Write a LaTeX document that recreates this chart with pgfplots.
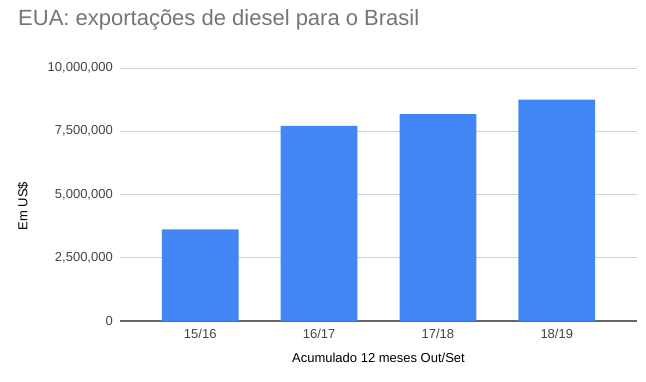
\documentclass[border=0pt]{standalone}
\usepackage{fontspec}
\setmainfont{Liberation Sans}
\usepackage{pgfplots}
\pgfplotsset{compat=1.18}
\definecolor{barblue}{HTML}{4285F4}
\definecolor{titlegray}{HTML}{757575}
\definecolor{ticktext}{HTML}{444444}
\definecolor{gridgray}{HTML}{D0D0D0}
\definecolor{basegray}{HTML}{666666}
\begin{document}
\begin{tikzpicture}[x=1pt,y=1pt]
\path[use as bounding box] (0,0) rectangle (646,382);
\node[anchor=base west, inner sep=0pt, text=titlegray, font=\fontsize{22}{26}\selectfont] at (18,356) {EUA: exportações de diesel para o Brasil};
\begin{axis}[
  at={(120pt,61pt)}, anchor=south west,
  scale only axis, width=517pt, height=253pt,
  xmin=-0.675, xmax=3.675, ymin=0, ymax=10000000,
  ybar, bar width=76.7pt,
  axis x line*=bottom, axis y line*=left,
  x axis line style={-, draw=basegray, line width=1.3pt},
  y axis line style={draw=none},
  xtick=data, xticklabels={15/16,16/17,17/18,18/19},
  ytick={0,2500000,5000000,7500000,10000000},
  yticklabels={0,{2,500,000},{5,000,000},{7,500,000},{10,000,000}},
  major tick length=0pt,
  ymajorgrids, grid style={draw=gridgray, line width=0.9pt},
  ticklabel style={font=\fontsize{13}{13}\selectfont, text=ticktext, inner sep=0pt},
  yticklabel style={anchor=east, xshift=-7pt},
  xticklabel style={anchor=north, yshift=-8pt},
  scaled y ticks=false,
  xlabel={Acumulado 12 meses Out/Set},
  ylabel={Em US\$},
  label style={font=\fontsize{13}{13}\selectfont, text=black},
  xlabel style={at={(axis description cs:0.5,-0.1462)}, anchor=center, inner sep=0pt},
  ylabel style={at={(axis description cs:-0.1876,0.4545)}, anchor=center, inner sep=0pt},
  clip=false,
]
\addplot[fill=barblue, draw=none] coordinates {(0,3620000) (1,7710000) (2,8180000) (3,8750000)};
\end{axis}
\end{tikzpicture}
\end{document}
